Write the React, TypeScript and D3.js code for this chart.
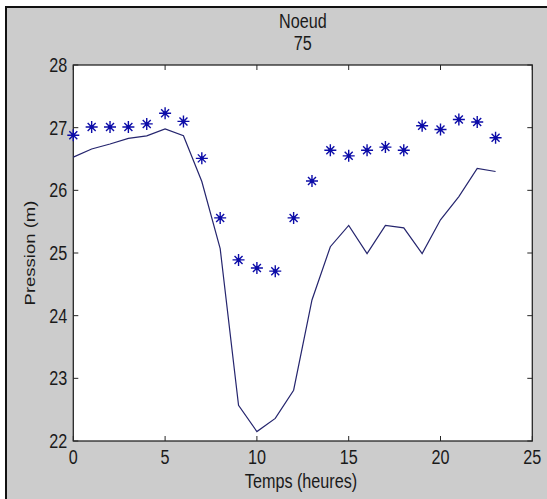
import React from "react";
import * as d3 from "d3";

const hours = d3.range(0, 24);
const measured = [26.88, 27.01, 27.01, 27.01, 27.06, 27.23, 27.1, 26.51, 25.56, 24.89, 24.76, 24.71, 25.56, 26.15, 26.64, 26.55, 26.64, 26.69, 26.64, 27.03, 26.97, 27.13, 27.09, 26.84];
const simulated = [26.53, 26.66, 26.74, 26.83, 26.87, 26.98, 26.87, 26.14, 25.07, 22.57, 22.15, 22.36, 22.81, 24.25, 25.1, 25.44, 24.99, 25.44, 25.4, 24.99, 25.53, 25.9, 26.35, 26.3];
const xTicks = [0, 5, 10, 15, 20, 25];
const yTicks = [22, 23, 24, 25, 26, 27, 28];
const titleLines = ["Noeud", "75"];
const xLabel = "Temps (heures)";
const yLabel = "Pression (m)";

const W = 547, H = 499;
const M = { left: 73.3, right: 532.3, top: 65, bottom: 441 };
const FONT = "'Liberation Sans', Arial, Helvetica, sans-serif";
const FS = 19.5;
const KX = 0.83;

export default function App() {
  const x = d3.scaleLinear().domain([0, 25]).range([M.left, M.right]);
  const y = d3.scaleLinear().domain([22, 28]).range([M.bottom, M.top]);
  const line = d3.line<number>().x((_, i) => x(hours[i])).y((d) => y(d));
  const tk = 5;
  const frame = "#262626";
  const txt = (xx: number, yy: number, s: string, anchor: string, key?: any) => (
    <g key={key} transform={`translate(${xx},${yy}) scale(${KX},1)`}>
      <text x={0} y={0} textAnchor={anchor} fontFamily={FONT} fontSize={FS} fill="#1a1a1a">{s}</text>
    </g>
  );
  const starPath = (cx: number, cy: number) => {
    const r = 6, d = 4;
    return `M${cx - r},${cy}L${cx + r},${cy}M${cx},${cy - r}L${cx},${cy + r}M${cx - d},${cy - d}L${cx + d},${cy + d}M${cx - d},${cy + d}L${cx + d},${cy - d}`;
  };
  return (
    <svg width={W} height={H} style={{ position: "absolute", left: 0, top: 0 }}>
      <rect x={0} y={0} width={W} height={H} fill="#ffffff" />
      <rect x={5} y={6} width={W - 5} height={H - 6} fill="#cccccc" />
      <line x1={5} y1={7} x2={W} y2={7} stroke="#111" strokeWidth={2} />
      <line x1={6} y1={6} x2={6} y2={H} stroke="#111" strokeWidth={2} />
      <rect x={M.left} y={M.top} width={M.right - M.left} height={M.bottom - M.top} fill="#ffffff" />
      {xTicks.map((t) => (
        <g key={"xt" + t}>
          <line x1={x(t)} x2={x(t)} y1={M.bottom} y2={M.bottom - tk} stroke={frame} />
          <line x1={x(t)} x2={x(t)} y1={M.top} y2={M.top + tk} stroke={frame} />
        </g>
      ))}
      {yTicks.map((t) => (
        <g key={"yt" + t}>
          <line x1={M.left} x2={M.left + tk} y1={y(t)} y2={y(t)} stroke={frame} />
          <line x1={M.right} x2={M.right - tk} y1={y(t)} y2={y(t)} stroke={frame} />
        </g>
      ))}
      <rect x={M.left} y={M.top} width={M.right - M.left} height={M.bottom - M.top} fill="none" stroke={frame} strokeWidth={1.3} />
      <path d={line(simulated) || ""} fill="none" stroke="#25256e" strokeWidth={1.2} />
      {measured.map((v, i) => (
        <path key={"s" + i} d={starPath(x(hours[i]), y(v))} stroke="#0c0ca8" strokeWidth={1.4} fill="none" />
      ))}
      {measured.map((v, i) => (
        <circle key={"c" + i} cx={x(hours[i])} cy={y(v)} r={2} fill="#0c0ca8" />
      ))}
      {xTicks.map((t) => txt(x(t), 463.5, String(t), "middle", "xl" + t))}
      {yTicks.map((t) => txt(M.left - 6, y(t) + 7, String(t), "end", "yl" + t))}
      {txt((M.left + M.right) / 2, 28, titleLines[0], "middle", "t0")}
      {txt((M.left + M.right) / 2, 49.5, titleLines[1], "middle", "t1")}
      {txt(301, 488, xLabel, "middle", "xlab")}
      <g transform={`translate(35,253) scale(${KX},1) rotate(-90)`}>
        <text x={0} y={0} textAnchor="middle" fontFamily={FONT} fontSize={18.5} fill="#1a1a1a">{yLabel}</text>
      </g>
    </svg>
  );
}
